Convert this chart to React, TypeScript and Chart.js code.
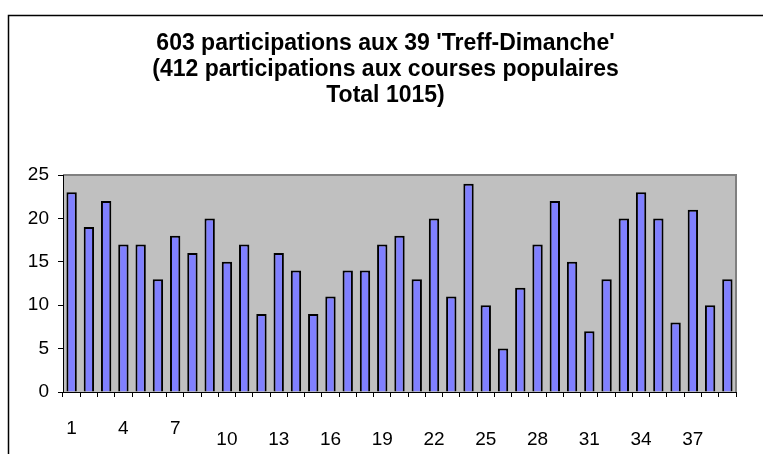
import React, { useEffect, useRef } from "react";
import { Chart, registerables } from "chart.js";

Chart.register(...registerables);

const titleLines = [
  "603 participations aux 39 'Treff-Dimanche'",
  "(412 participations aux courses populaires",
  "Total 1015)",
];

const categories = Array.from({ length: 39 }, (_, i) => String(i + 1));

const participations = [
  23, 19, 22, 17, 17, 13, 18, 16, 20, 15, 17, 9, 16, 14, 9, 11, 14, 14, 17, 18,
  13, 20, 11, 24, 10, 5, 12, 17, 22, 15, 7, 13, 20, 23, 20, 8, 21, 10, 13,
];

const yTicks = { min: 0, max: 25, step: 5 };

const FONT = "'Liberation Sans', Arial, Helvetica, sans-serif";

const framePlugin = {
  id: "frame",
  beforeDraw(chart: any) {
    const { ctx, chartArea } = chart;
    ctx.save();
    ctx.fillStyle = "#ffffff";
    ctx.fillRect(0, 0, chart.width, chart.height);
    ctx.strokeStyle = "#000000";
    ctx.lineWidth = 1.5;
    ctx.strokeRect(8.5, 15.5, chart.width + 20, chart.height + 20);
    ctx.fillStyle = "#c0c0c0";
    ctx.fillRect(chartArea.left, chartArea.top, chartArea.right - chartArea.left, chartArea.bottom - chartArea.top);
    ctx.strokeStyle = "#808080";
    ctx.lineWidth = 2;
    ctx.beginPath();
    ctx.moveTo(chartArea.left, chartArea.top);
    ctx.lineTo(chartArea.right, chartArea.top);
    ctx.lineTo(chartArea.right, chartArea.bottom);
    ctx.stroke();
    ctx.restore();
  },
};

export default function App() {
  const ref = useRef<HTMLCanvasElement | null>(null);

  useEffect(() => {
    if (!ref.current) return;
    const chart = new Chart(ref.current, {
      type: "bar",
      data: {
        labels: categories,
        datasets: [
          {
            data: participations,
            backgroundColor: "#8080ff",
            borderColor: "#000000",
            borderWidth: 2,
            barPercentage: 0.6,
            categoryPercentage: 1,
            yAxisID: "y",
          },
        ],
      },
      options: {
        responsive: false,
        animation: false,
        layout: { padding: { left: 8, right: 0, top: 0, bottom: 0 } },
        plugins: {
          legend: { display: false },
          tooltip: { enabled: false },
          title: {
            display: true,
            text: titleLines,
            color: "#000000",
            font: { family: FONT, size: 23, weight: "bold", lineHeight: "26px" },
            padding: { top: 31, bottom: 66 },
          },
        },
        scales: {
          x: {
            offset: true,
            grid: {
              display: true,
              offset: true,
              drawOnChartArea: false,
              drawTicks: true,
              tickLength: 5,
              color: "#000000",
            },
            border: { display: true, color: "#000000", width: 1 },
            ticks: {
              autoSkip: false,
              maxRotation: 0,
              minRotation: 0,
              padding: 26,
              color: "#000000",
              font: { family: FONT, size: 19, lineHeight: "11px" },
              callback: (_v: any, i: number) => {
                if (i % 3 !== 0) return "";
                const lab = categories[i];
                return i < 9 ? lab : ["", lab];
              },
            },
            afterFit: (s: any) => {
              s.height = 62;
            },
          },
          y: {
            position: "left",
            min: yTicks.min,
            max: yTicks.max,
            grid: {
              display: true,
              drawOnChartArea: false,
              drawTicks: true,
              tickLength: 5,
              color: "#000000",
            },
            border: { display: true, color: "#000000", width: 1 },
            ticks: {
              stepSize: yTicks.step,
              padding: 9,
              color: "#000000",
              font: { family: FONT, size: 19 },
            },
            afterFit: (s: any) => {
              s.width = 55;
            },
          },
          y2: {
            position: "right",
            display: true,
            grid: { display: false, drawTicks: false },
            border: { display: false },
            ticks: { display: false },
            afterFit: (s: any) => {
              s.width = 27;
            },
          },
        },
      },
      plugins: [framePlugin],
    } as any);
    return () => chart.destroy();
  }, []);

  return (
    <div style={{ position: "fixed", left: 0, top: 0, width: 763, height: 454 }}>
      <canvas ref={ref} width={763} height={454} style={{ display: "block" }} />
    </div>
  );
}
